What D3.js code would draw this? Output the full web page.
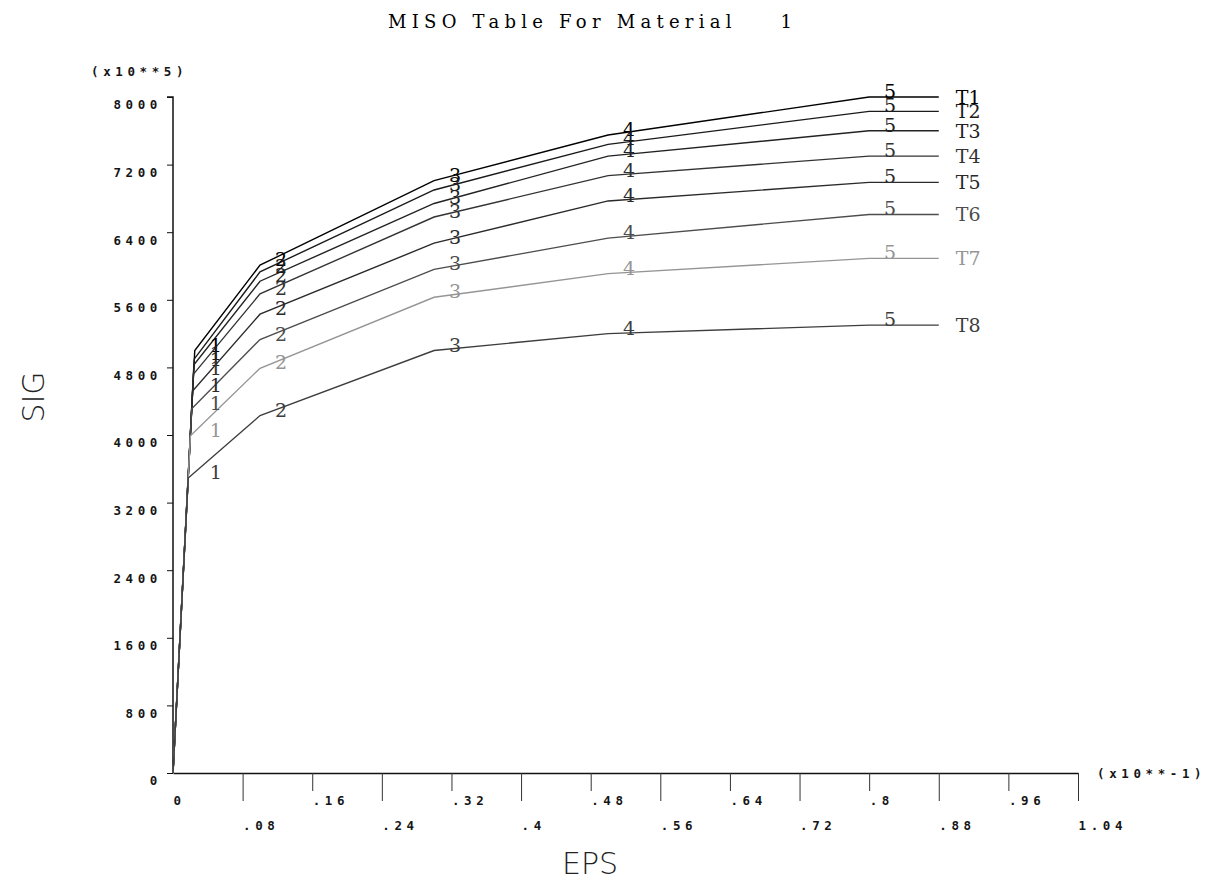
<!DOCTYPE html>
<html>
<head>
<meta charset="utf-8">
<script src="https://cdn.jsdelivr.net/npm/d3@7"></script>
<style>
	body { margin: 0; background: #fff; }
	.tick-label { font-family: 'DejaVu Sans Mono', monospace; font-size: 12.5px; font-weight: bold; letter-spacing: 4.6px; fill: #151515; }
	.serif-label { font-family: 'DejaVu Serif', 'Liberation Serif', serif; font-size: 19px; }
	.axis-title { font-family: 'DejaVu Sans', sans-serif; font-weight: 200; font-size: 30px; fill: #222; }
</style>
</head>
<body>
<svg id="chart" width="1221" height="881"></svg>
<script>
const curveNames = ['T1', 'T2', 'T3', 'T4', 'T5', 'T6', 'T7', 'T8'];
// strain of the first (yield) point, per curve, in units of 10**-1
const yieldStrain = [0.025, 0.0245, 0.024, 0.0235, 0.0225, 0.0215, 0.02, 0.0175];
// strains of points 2..5, shared by all curves
const strainPoints = [0.1, 0.3, 0.5, 0.8];
const endStrain = 0.88;
// stresses in units of 10**5
const sig1 = [5000, 4900, 4830, 4720, 4520, 4310, 3990, 3490];
const sig2 = [6010, 5930, 5820, 5670, 5430, 5130, 4790, 4230];
const sig3 = [7010, 6900, 6740, 6580, 6270, 5960, 5630, 5000];
const sig4 = [7550, 7440, 7300, 7070, 6770, 6330, 5910, 5200];
const sig5 = [8000, 7830, 7600, 7300, 6990, 6610, 6090, 5300];

const xTicks = [0, 0.08, 0.16, 0.24, 0.32, 0.4, 0.48, 0.56, 0.64, 0.72, 0.8, 0.88, 0.96, 1.04];
const xTickLabels = ['0', '.08', '.16', '.24', '.32', '.4', '.48', '.56', '.64', '.72', '.8', '.88', '.96', '1.04'];
const yTicks = [0, 800, 1600, 2400, 3200, 4000, 4800, 5600, 6400, 7200, 8000];
const yTickLabels = ['0', '800', '1600', '2400', '3200', '4000', '4800', '5600', '6400', '7200', '8000'];

const lineColors = ['#000', '#1a1a1a', '#222', '#333', '#2a2a2a', '#4d4d4d', '#959595', '#3d3d3d'];

let svg = d3.select('#chart');
let x = d3.scaleLinear().domain([0, 1.04]).range([173, 1078]);
let y = d3.scaleLinear().domain([0, 8000]).range([773, 97]);

let curves = curveNames.map((name, i) => {
	let pts = [[0, 0], [yieldStrain[i], sig1[i]]];
	[sig2, sig3, sig4, sig5].forEach((s, k) => pts.push([strainPoints[k], s[i]]));
	pts.push([endStrain, sig5[i]]);
	return { name: name, color: lineColors[i], points: pts };
});

// title
svg.append('text')
	.attr('x', 388)
	.attr('y', 28)
	.attr('fill', '#000')
	.attr('font-family', "'DejaVu Serif', serif")
	.attr('font-size', 18)
	.attr('textLength', 404)
	.attr('lengthAdjust', 'spacing')
	.style('white-space', 'pre')
	.text('MISO Table For Material    1');

// y axis
let yAxis = svg.append('g')
	.attr('transform', 'translate(173,0)')
	.call(d3.axisLeft(y).tickValues(yTicks).tickSize(6).tickFormat((d, i) => yTickLabels[i]));
yAxis.select('.domain').attr('d', 'M-6,' + y(8000) + 'H0V' + y(0)).attr('stroke', '#111').attr('stroke-width', 1.5);
yAxis.selectAll('.tick line').attr('stroke', '#111');
yAxis.selectAll('.tick text')
	.attr('class', 'tick-label')
	.attr('x', -11)
	.attr('dy', '0.95em')
	.attr('font-family', null)
	.attr('font-size', null);

// x axis
let xAxis = svg.append('g')
	.attr('transform', 'translate(0,773)')
	.call(d3.axisBottom(x).tickValues(xTicks).tickSizeOuter(0).tickFormat((d, i) => xTickLabels[i]));
xAxis.select('.domain').attr('stroke', '#111').attr('stroke-width', 1.5);
xAxis.selectAll('.tick line')
	.attr('stroke', '#333')
	.attr('y2', (d, i) => i === 0 ? 0 : (i % 2 ? 28 : 18));
xAxis.selectAll('.tick text')
	.attr('class', 'tick-label')
	.attr('text-anchor', 'start')
	.attr('x', 0)
	.attr('dy', null)
	.attr('y', (d, i) => i % 2 ? 57 : 32)
	.attr('font-family', null)
	.attr('font-size', null);

svg.append('text')
	.attr('class', 'tick-label')
	.attr('x', 91)
	.attr('y', 76)
	.text('(x10**5)');

svg.append('text')
	.attr('class', 'tick-label')
	.attr('x', 1097)
	.attr('y', 778)
	.text('(x10**-1)');

// axis titles
svg.append('text')
	.attr('class', 'axis-title')
	.attr('text-anchor', 'middle')
	.attr('x', 590)
	.attr('y', 874)
	.text('EPS');

svg.append('text')
	.attr('class', 'axis-title')
	.attr('text-anchor', 'middle')
	.attr('transform', 'translate(44,397) rotate(-90)')
	.text('SIG');

// curves
let line = d3.line()
	.x((d) => x(d[0]))
	.y((d) => y(d[1]));

let g = svg.append('g');

g.selectAll('.curve')
	.data(curves)
	.enter().append('path')
	.attr('class', 'curve')
	.attr('fill', 'none')
	.attr('stroke', (d) => d.color)
	.attr('stroke-width', 1.4)
	.attr('d', (d) => line(d.points));

// point numbers 1..5
let labelStrain = [d3.max(yieldStrain)].concat(strainPoints);
curves.forEach((c) => {
	labelStrain.forEach((s, k) => {
		g.append('text')
			.attr('class', 'serif-label')
			.attr('text-anchor', 'middle')
			.attr('fill', c.color)
			.attr('x', x(s) + 21)
			.attr('y', y(c.points[k + 1][1]) + 1)
			.text(k + 1);
	});
});

// curve names at the ends
g.selectAll('.curve-name')
	.data(curves)
	.enter().append('text')
	.attr('class', 'serif-label curve-name')
	.attr('fill', (d) => d.color)
	.attr('x', x(endStrain) + 17)
	.attr('y', (d) => y(d.points[d.points.length - 1][1]) + 7)
	.text((d) => d.name);
</script>
</body>
</html>
